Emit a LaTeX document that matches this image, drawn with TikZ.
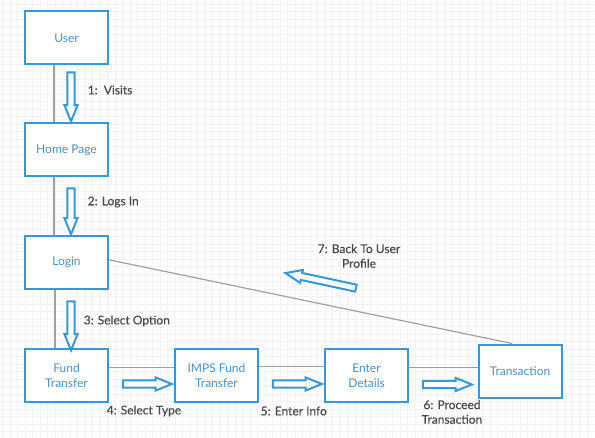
\documentclass[tikz,border=0pt]{standalone}
\usepackage{fontspec}
\setmainfont{Lato}
\newfontfamily\labelfont[FakeBold=0.5]{Lato}
\usepackage{tikz}
\usetikzlibrary{shapes,arrows,positioning,calc}
\definecolor{boxblue}{HTML}{3498DB}
\definecolor{textblue}{HTML}{4A90C8}
\definecolor{linegray}{HTML}{A0A0A0}
\definecolor{labelgray}{HTML}{4A4A4A}
\definecolor{gridgray}{HTML}{F3F3F3}

\begin{document}
\begin{tikzpicture}[
    x=0.75pt, y=-0.75pt,
    page/.style={rectangle, draw=boxblue, fill=white, text=textblue, align=center,
                 minimum width=62.25pt, minimum height=39.75pt, font=\small, line width=1.5pt},
    flow/.style={single arrow, draw=boxblue, fill=white, line width=1.5pt,
                 inner sep=1.9pt, single arrow head extend=2.3pt,
                 single arrow tip angle=44, minimum height=36.75pt},
    link/.style={draw=linegray, line width=0.9pt},
    steplabel/.style={text=labelgray, font=\labelfont\small, align=center}
]
    % background grid
    \useasboundingbox (0,0) rectangle (595,438);
    \foreach \gx in {2.7,10.2,...,595} \draw[gridgray, line width=0.4pt] (\gx,0) -- (\gx,438);
    \foreach \gy in {4.2,11.7,...,438} \draw[gridgray, line width=0.4pt] (0,\gy) -- (595,\gy);

    % Pages
    \node[page] (user) at (66.5,38) {User};
    \node[page] (home) at (66.5,150) {Home Page};
    \node[page] (login) at (66.5,262.5) {Login};
    \node[page] (fund) at (66.5,375.5) {Fund\\Transfer};
    \node[page] (imps) at (216.5,375.5) {IMPS Fund\\Transfer};
    \node[page] (enter) at (366.5,375.5) {Enter\\Details};
    \node[page] (trans) at (520,371) {Transaction};

    % Links
    \draw[link] ([xshift=-9.4pt]user.south) -- ([xshift=-9.4pt]home.north);
    \draw[link] ([xshift=-9.4pt]home.south) -- ([xshift=-9.4pt]login.north);
    \draw[link] ([xshift=-8.6pt]login.south) -- ([xshift=-8.6pt]fund.north);
    \draw[link] ([yshift=6pt]fund.east) -- ([yshift=6pt]imps.west);
    \draw[link] ([yshift=6.6pt]imps.east) -- ([yshift=6.6pt]enter.west);
    \draw[link] ([yshift=6pt]enter.east) -- ([yshift=6pt]enter.east -| trans.west);
    \draw[link] ([yshift=2pt]login.east) -- ([xshift=-6pt]trans.north);

    % Flow arrows
    \node[flow, rotate=-90] (a1) at (71,92.5) {};
    \node[flow, rotate=-90, minimum height=34.5pt] (a2) at (71,207) {};
    \node[flow, rotate=-90] (a3) at (71,321.5) {};
    \node[flow] (a4) at (143,384) {};
    \node[flow] (a5) at (293,384) {};
    \node[flow] (a6) at (443,384.5) {};
    \node[flow, rotate=167.9, minimum height=54pt] (a7) at (325,281.5) {};

    % Step labels
    \node[steplabel, anchor=west] (l1) at (83,90) {1:\ \ Visits};
    \node[steplabel, anchor=west] (l2) at (83,202) {2: Logs In};
    \node[steplabel, anchor=west] (l3) at (79,321) {3: Select Option};
    \node[steplabel, anchor=west] (l4) at (102,411) {4: Select Type};
    \node[steplabel, anchor=west] (l5) at (256,411) {5: Enter Info};
    \node[steplabel] (l6) at (452,412) {6: Proceed\\Transaction};
    \node[steplabel] (l7) at (359,256) {7: Back To User\\Profile};
\end{tikzpicture}
\end{document}
